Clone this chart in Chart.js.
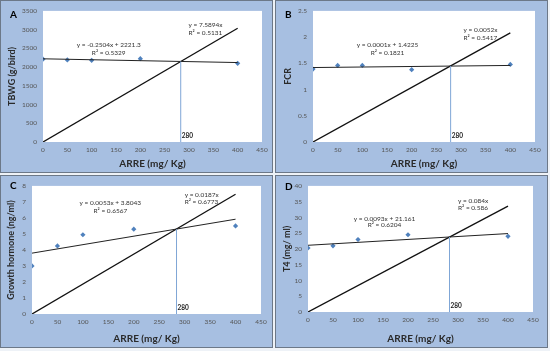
<!DOCTYPE html>
<html>
<head>
<meta charset="utf-8">
<script src="https://cdn.jsdelivr.net/npm/chart.js@4.4.1/dist/chart.umd.min.js"></script>
<style>
  html, body { margin: 0; padding: 0; background: #eef2f7; }
  body { width: 550px; height: 351px; position: relative; overflow: hidden; }
  .panel { position: absolute; width: 271px; height: 171px; background: #a7bfe1; border: 1px solid #6c7888; }
  .panel canvas { position: absolute; left: 0; top: 0; }
</style>
</head>
<body>
<div class="panel" style="left:0;top:0"><canvas id="cA" width="271" height="171"></canvas></div>
<div class="panel" style="left:275px;top:0"><canvas id="cB" width="271" height="171"></canvas></div>
<div class="panel" style="left:0;top:175px"><canvas id="cC" width="271" height="171"></canvas></div>
<div class="panel" style="left:275px;top:175px"><canvas id="cD" width="271" height="171"></canvas></div>
<script>
// doses of ARRE (mg/Kg)
const doses = [0, 50, 100, 200, 400];
const lineEnds = [0, 400];

// measured values
const tbwg = [2210, 2190, 2180, 2225, 2100];
const fcr = [1.39, 1.46, 1.46, 1.38, 1.48];
const gh = [3.0, 4.25, 4.95, 5.3, 5.5];
const t4 = [20.3, 21.0, 23.0, 24.5, 24.0];

// fitted lines, value at 0 and at 400
const tbwgTrend = [2221, 2121];
const tbwgOrigin = [0, 3036];
const fcrTrend = [1.42, 1.46];
const fcrOrigin = [0, 2.08];
const ghTrend = [3.80, 5.92];
const ghOrigin = [0, 7.48];
const t4Trend = [21.16, 24.88];
const t4Origin = [0, 33.6];

// where the two lines cross (x, y)
const tbwgCross = [283, 2150];
const fcrCross = [279, 1.45];
const ghCross = [284, 5.3];
const t4Cross = [283, 23.8];

// axis ticks: min, max, step
const xTicks = [0, 450, 50];
const tbwgTicks = [0, 3500, 500];
const fcrTicks = [0, 2.5, 0.5];
const ghTicks = [0, 8, 1];
const t4Ticks = [0, 40, 5];

const tbwgEq = ['y = -0.2504x + 2221.3', 'R² = 0.5329', 'y = 7.5894x', 'R² = 0.5131'];
const fcrEq = ['y = 0.0001x + 1.4225', 'R² = 0.1821', 'y = 0.0052x', 'R² = 0.5417'];
const ghEq = ['y = 0.0053x + 3.8043', 'R² = 0.6567', 'y = 0.0187x', 'R² = 0.6773'];
const t4Eq = ['y = 0.0093x + 21.161', 'R² = 0.6204', 'y = 0.084x', 'R² = 0.586'];

const FONT = 'Lato, "Open Sans", sans-serif';

// white plot area + labels drawn on top
const panelPlugin = {
  id: 'panelDeco',
  beforeDraw(chart) {
    const a = chart.chartArea, ctx = chart.ctx;
    ctx.save();
    ctx.fillStyle = '#ffffff';
    ctx.fillRect(a.left, a.top, a.right - a.left, a.bottom - a.top);
    ctx.restore();
  },
  afterDraw(chart, args, opts) {
    const ctx = chart.ctx, xs = chart.scales.x, ys = chart.scales.y;
    ctx.save();
    ctx.fillStyle = '#000';
    ctx.font = 'bold 10px ' + FONT;
    ctx.textAlign = 'left';
    ctx.textBaseline = 'middle';
    ctx.fillText(opts.letter, opts.letterPos[0], opts.letterPos[1]);

    ctx.font = '6.5px ' + FONT;
    ctx.fillStyle = '#333';
    opts.notes.forEach(n => {
      ctx.textAlign = n.align;
      ctx.fillText(n.text, xs.getPixelForValue(n.x), ys.getPixelForValue(n.y));
    });

    ctx.font = 'bold 6.5px ' + FONT;
    ctx.fillStyle = '#222';
    ctx.textAlign = 'left';
    ctx.fillText('280', xs.getPixelForValue(opts.crossX) + 1, chart.chartArea.bottom - 6);
    ctx.restore();
  }
};

function makePanel(id, opt) {
  const box = opt.box; // chart area in canvas coords: left, right, top, bottom
  const canvas = document.getElementById(id);
  const W = canvas.width, H = canvas.height;
  const pts = doses.map((d, i) => ({ x: d, y: opt.values[i] }));
  const trend = lineEnds.map((d, i) => ({ x: d, y: opt.trend[i] }));
  const origin = lineEnds.map((d, i) => ({ x: d, y: opt.origin[i] }));
  const drop = [{ x: opt.cross[0], y: 0 }, { x: opt.cross[0], y: opt.cross[1] }];
  const eq = opt.eq, L = opt.labelAt;

  return new Chart(canvas, {
    type: 'scatter',
    data: {
      datasets: [
        { data: drop, showLine: true, borderColor: '#7fa6d6', borderWidth: 1, pointRadius: 0 },
        { data: trend, showLine: true, borderColor: '#222', borderWidth: 1, pointRadius: 0 },
        { data: origin, showLine: true, borderColor: '#111', borderWidth: 1.3, pointRadius: 0 },
        { data: pts, showLine: false, pointStyle: 'rectRot', pointRadius: 2.6,
          backgroundColor: '#4f81bd', borderColor: '#4f81bd', borderWidth: 0 }
      ]
    },
    options: {
      responsive: false,
      animation: false,
      layout: { padding: { top: box.top, right: W - box.right, left: 0, bottom: 0 } },
      plugins: {
        legend: { display: false },
        tooltip: { enabled: false },
        panelDeco: {
          letter: opt.letter,
          letterPos: opt.letterPos,
          crossX: opt.cross[0],
          notes: [
            { text: eq[0], x: L[0][0], y: L[0][1], align: 'center' },
            { text: eq[1], x: L[0][0], y: L[0][2], align: 'center' },
            { text: eq[2], x: L[1][0], y: L[1][1], align: 'left' },
            { text: eq[3], x: L[1][0], y: L[1][2], align: 'left' }
          ]
        }
      },
      scales: {
        x: {
          type: 'linear', min: xTicks[0], max: xTicks[1],
          grid: { display: false, drawTicks: false }, border: { display: false },
          ticks: { stepSize: xTicks[2], color: '#555', padding: 4, font: { family: FONT, size: 6.5 },
                   callback: v => String(v) },
          title: { display: true, text: 'ARRE (mg/ Kg)', color: '#2a2a2a', padding: { top: 0, bottom: 2 },
                   font: { family: FONT, size: 10, weight: 'bold' } },
          afterFit(s) { s.height = H - box.bottom; }
        },
        y: {
          type: 'linear', min: opt.ticks[0], max: opt.ticks[1],
          grid: { display: false, drawTicks: false }, border: { display: false },
          ticks: { stepSize: opt.ticks[2], color: '#555', padding: 6, font: { family: FONT, size: 6.5 },
                   callback: v => String(v) },
          title: { display: true, text: opt.yTitle, color: '#2a2a2a', padding: { top: opt.yTitlePad, bottom: 0 },
                   font: { family: FONT, size: 9, weight: 'bold' } },
          afterFit(s) { s.width = box.left; }
        }
      }
    },
    plugins: [panelPlugin]
  });
}

makePanel('cA', {
  box: { left: 42, right: 261, top: 8, bottom: 141 },
  values: tbwg, trend: tbwgTrend, origin: tbwgOrigin, cross: tbwgCross,
  ticks: tbwgTicks, yTitle: 'TBWG (g/bird)', yTitlePad: 6, eq: tbwgEq,
  labelAt: [[135, 2580, 2370], [299, 3130, 2920]],
  letter: 'A', letterPos: [9, 14]
});
makePanel('cB', {
  box: { left: 37, right: 259, top: 8, bottom: 141 },
  values: fcr, trend: fcrTrend, origin: fcrOrigin, cross: fcrCross,
  ticks: fcrTicks, yTitle: 'FCR', yTitlePad: 7, eq: fcrEq,
  labelAt: [[151, 1.86, 1.69], [305, 2.14, 1.99]],
  letter: 'B', letterPos: [9, 14]
});
makePanel('cC', {
  box: { left: 31, right: 260, top: 5, bottom: 138 },
  values: gh, trend: ghTrend, origin: ghOrigin, cross: ghCross,
  ticks: ghTicks, yTitle: 'Growth hormone (ng/ml)', yTitlePad: 5, eq: ghEq,
  labelAt: [[154, 6.92, 6.44], [300, 7.46, 6.98]],
  letter: 'C', letterPos: [9, 10]
});
makePanel('cD', {
  box: { left: 32, right: 257, top: 6, bottom: 136 },
  values: t4, trend: t4Trend, origin: t4Origin, cross: t4Cross,
  ticks: t4Ticks, yTitle: 'T4 (mg/ ml)', yTitlePad: 6, eq: t4Eq,
  labelAt: [[153, 29.6, 27.5], [300, 35.1, 33.0]],
  letter: 'D', letterPos: [9, 11]
});
</script>
</body>
</html>
